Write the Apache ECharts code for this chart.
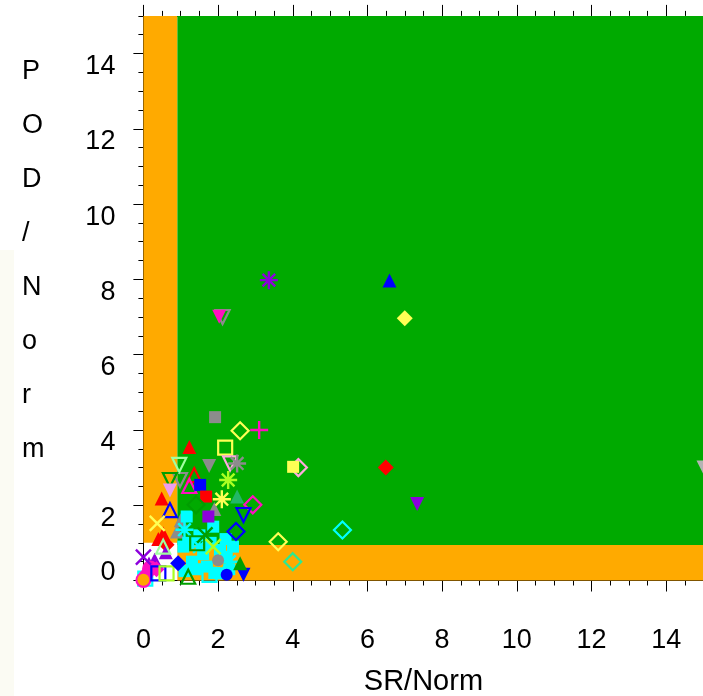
<!DOCTYPE html>
<html><head><meta charset="utf-8">
<script src="https://cdn.jsdelivr.net/npm/echarts@6/dist/echarts.min.js"></script>
<style>html,body{margin:0;padding:0;background:#fff;}#c{width:703px;height:696px;}</style>
</head><body><div id="c"></div>
<script>
// ---- axis / tick data ----
const xMin = 0, xMax = 15, yMin = 0, yMax = 15;
const xTickStep = 2, yTickStep = 2, minorStep = 0.5;
const xTitle = 'SR/Norm';
const yTitle = 'POD/Norm';
const srThreshold = 0.91, podThreshold = 0.94, podLeftThreshold = 1.0;

// ---- point data (SR/Norm, POD/Norm) ----
const purpleStar = [[3.36,7.98]];
const blueFilledTri = [[6.59,7.97]];
const magentaFilledTriDown = [[2.03,7.01]];
const grayOpenTriDown = [[2.12,7.0],[0.98,2.67]];
const yellowFilledDiamond = [[7.0,6.97]];
const grayFilledSquare = [[1.92,4.34]];
const yellowOpenDiamond = [[2.59,3.98],[3.61,1.03]];
const magentaPlus = [[3.10,4.0]];
const redFilledTri = [[1.23,3.55],[0.49,2.18],[0.53,1.25],[0.4,1.1]];
const yellowOpenSquare = [[2.19,3.53]];
const palegreenOpenTriDown = [[0.96,3.07]];
const grayFilledTriDown = [[1.76,3.04]];
const grayStar = [[2.51,3.11]];
const pinkOpenTriDown = [[2.32,3.11]];
const yellowFilledSquare = [[4.01,3.02]];
const pinkOpenDiamond = [[4.15,3.0]];
const redFilledDiamond = [[6.49,3.0],[0.62,0.95]];
const silverFilledTriDown = [[15.0,3.0]];
const purpleFilledTriDown = [[7.33,2.03]];
const cyanOpenDiamond = [[5.33,1.34]];
const springOpenDiamond = [[4.0,0.5]];
const limeStar = [[2.27,2.67]];
const greenOpenTriDown = [[0.71,2.67]];
const redOpenTri = [[1.36,2.80]];
const magentaOpenTri = [[1.23,2.51]];
const blueFilledSquare = [[1.52,2.54]];
const seagreenFilledTri = [[2.51,2.23]];
const plumFilledTriDown = [[0.71,2.39]];
const redFilledSquare = [[1.68,2.23]];
const yellowStar = [[2.10,2.16]];
const greenOpenDiamond = [[1.41,2.01]];
const magentaOpenDiamond = [[2.93,2.01]];
const blueOpenTri = [[0.71,1.87]];
const blueOpenTriDown = [[2.68,1.74]];
const blueOpenDiamond = [[2.48,1.30]];
const yellowCross = [[0.37,1.52]];
const greenCross = [[1.65,1.21]];
const greenOpenSquare = [[1.44,0.99]];
const grayFilledTri = [[0.9,1.3],[1.0,1.6],[1.9,1.9]];
const cyanFilledSquare = [[1.16,1.70],[1.87,1.43],[2.05,0.81],[2.23,0.63],[1.07,0.90],[1.70,0.37],[2.05,0.19],[1.5,1.2],[2.4,0.9],[1.3,0.5],[1.4,0.3],[1.9,0.2],[2.3,0.3],[1.6,0.7],[1.2,1.0],[2.2,1.1],[1.8,1.0],[1.1,0.25]];
const cyanStar = [[2.3,0.5],[1.5,0.9],[1.1,1.35]];
const cyanOpenSquare = [[1.77,0.15],[0.05,0.05]];
const purpleFilledSquare = [[1.74,1.70]];
const purpleFilledTri = [[0.3,0.55],[0.6,0.75],[0.15,0.45]];
const grayFilledCircle = [[2.0,0.54]];
const limeCross = [[1.87,0.90]];
const palegreenOpenTri = [[0.53,0.90]];
const magentaFilledDiamond = [[0.1,0.2],[0.35,0.3],[0.05,0.1]];
const magentaFilledCircle = [[0.0,0.01],[0.18,0.32]];
const orangeFilledCircle = [[0.0,0.02]];
const purpleCross = [[0.0,0.62]];
const blueOpenSquare = [[0.40,0.19]];
const limeOpenSquare = [[0.62,0.19]];
const blueFilledDiamond = [[0.93,0.46]];
const greenOpenTri = [[1.20,0.10]];
const blueFilledCircle = [[2.23,0.15]];
const blueFilledTriDown = [[2.68,0.15]];
const greenFilledTri = [[2.59,0.46]];

const C = {
  red:'#FF0000', blue:'#0000FF', magenta:'#FF10C0', purple:'#8C00DC', yellow:'#FFFF55',
  gray:'#8C8C8C', silver:'#B4B4B4', cyan:'#00FFFF', lime:'#AAFF22', green:'#009E00',
  spring:'#30E890', seagreen:'#22B866', pink:'#FFAADD', plum:'#EE9EEE', palegreen:'#A0FFA0',
  orange:'#FFA500'
};
const SHAPES = {
  triUp:{symbol:'triangle', size:14, rot:0},
  triDown:{symbol:'triangle', size:14, rot:180},
  square:{symbol:'rect', size:12, rot:0},
  osquare:{symbol:'rect', size:14, rot:0},
  diamond:{symbol:'diamond', size:16, rot:0},
  odiamond:{symbol:'diamond', size:17, rot:0},
  circle:{symbol:'circle', size:12, rot:0},
  bigcircle:{symbol:'circle', size:16, rot:0},
  plus:{symbol:'path://M5,0L5,10M0,5L10,5', size:18, rot:0},
  cross:{symbol:'path://M0,0L10,10M10,0L0,10', size:15, rot:0},
  star:{symbol:'path://M5,0L5,10M0,5L10,5M1.5,1.5L8.5,8.5M8.5,1.5L1.5,8.5', size:18, rot:0}
};
// [data, colour, shape, mode] mode: fill | open | line
const spec = [
  [purpleStar,C.purple,'star','line'],
  [blueFilledTri,C.blue,'triUp','fill'],
  [grayOpenTriDown,C.gray,'triDown','open'],
  [magentaFilledTriDown,C.magenta,'triDown','fill'],
  [yellowFilledDiamond,C.yellow,'diamond','fill'],
  [grayFilledSquare,C.gray,'square','fill'],
  [yellowOpenDiamond,C.yellow,'odiamond','open'],
  [magentaPlus,C.magenta,'plus','line'],
  [yellowOpenSquare,C.yellow,'osquare','open'],
  [palegreenOpenTriDown,C.palegreen,'triDown','open'],
  [grayFilledTriDown,C.gray,'triDown','fill'],
  [pinkOpenTriDown,C.pink,'triDown','open'],
  [grayStar,C.gray,'star','line'],
  [pinkOpenDiamond,C.pink,'odiamond','open'],
  [yellowFilledSquare,C.yellow,'square','fill'],
  [redFilledDiamond,C.red,'diamond','fill'],
  [silverFilledTriDown,C.silver,'triDown','fill'],
  [purpleFilledTriDown,C.purple,'triDown','fill'],
  [cyanOpenDiamond,C.cyan,'odiamond','open'],
  [springOpenDiamond,C.spring,'odiamond','open'],
  [grayFilledTri,C.gray,'triUp','fill'],
  [cyanFilledSquare,C.cyan,'square','fill'],
  [cyanStar,C.cyan,'star','line'],
  [cyanOpenSquare,C.cyan,'osquare','open'],
  [greenOpenTriDown,C.green,'triDown','open'],
  [redOpenTri,C.red,'triUp','open'],
  [magentaOpenTri,C.magenta,'triUp','open'],
  [blueFilledSquare,C.blue,'square','fill'],
  [limeStar,C.lime,'star','line'],
  [seagreenFilledTri,C.seagreen,'triUp','fill'],
  [plumFilledTriDown,C.plum,'triDown','fill'],
  [redFilledTri,C.red,'triUp','fill'],
  [redFilledSquare,C.red,'square','fill'],
  [yellowStar,C.yellow,'star','line'],
  [greenOpenDiamond,C.green,'odiamond','open'],
  [magentaOpenDiamond,C.magenta,'odiamond','open'],
  [blueOpenTri,C.blue,'triUp','open'],
  [blueOpenTriDown,C.blue,'triDown','open'],
  [blueOpenDiamond,C.blue,'odiamond','open'],
  [yellowCross,C.yellow,'cross','line'],
  [greenCross,C.green,'cross','line'],
  [greenOpenSquare,C.green,'osquare','open'],
  [purpleFilledSquare,C.purple,'square','fill'],
  [purpleFilledTri,C.purple,'triUp','fill'],
  [grayFilledCircle,C.gray,'circle','fill'],
  [limeCross,C.lime,'cross','line'],
  [palegreenOpenTri,C.palegreen,'triUp','open'],
  [magentaFilledDiamond,C.magenta,'diamond','fill'],
  [magentaFilledCircle,C.magenta,'bigcircle','fill'],
  [orangeFilledCircle,C.orange,'circle','fill'],
  [purpleCross,C.purple,'cross','line'],
  [blueOpenSquare,C.blue,'osquare','open'],
  [limeOpenSquare,C.lime,'osquare','open'],
  [blueFilledDiamond,C.blue,'diamond','fill'],
  [greenOpenTri,C.green,'triUp','open'],
  [blueFilledCircle,C.blue,'circle','fill'],
  [blueFilledTriDown,C.blue,'triDown','fill'],
  [greenFilledTri,C.green,'triUp','fill']
];

const FONT = 'Liberation Sans, Arial, sans-serif';
const series = spec.map(([data, color, shape, mode], i) => {
  const s = SHAPES[shape];
  let itemStyle;
  if (mode === 'fill') itemStyle = {color: color, borderWidth: 0, opacity: 1};
  else if (mode === 'open') itemStyle = {color: 'rgba(0,0,0,0)', borderColor: color, borderWidth: 2.2, opacity: 1};
  else itemStyle = {color: color, borderColor: color, borderWidth: 2.4, opacity: 1};
  return {type:'scatter', data: data, symbol: s.symbol, symbolSize: s.size, symbolRotate: s.rot,
    itemStyle: itemStyle, clip: false, silent: true, z: 3};
});

// background quadrants
series.unshift({
  type:'scatter', data: [], silent: true, z: 1,
  markArea: { silent: true, itemStyle: {opacity: 1}, data: [
    [{xAxis: xMin, yAxis: podLeftThreshold, itemStyle:{color:'#FFAA00'}}, {xAxis: srThreshold, yAxis: yMax}],
    [{xAxis: srThreshold, yAxis: yMin, itemStyle:{color:'#FFAA00'}}, {xAxis: xMax, yAxis: podThreshold}],
    [{xAxis: srThreshold, yAxis: podThreshold, itemStyle:{color:'#00AA00'}}, {xAxis: xMax, yAxis: yMax}]
  ]}
});

const yRich = {
  n: {fontSize: 27, fontFamily: FONT, color: '#000', padding: [26,0,0,0]},
  z: {fontSize: 27, fontFamily: FONT, color: '#000', padding: [0,0,16,0]}
};
const blackLine = {color:'#000', width:1};
const option = {
  animation: false,
  backgroundColor: '#fff',
  grid: {left: 143.4, top: 15.9, width: 560.1, height: 564.6, containLabel: false, outerBoundsMode: 'none'},
  xAxis: [
    {type:'value', position:'bottom', min:xMin, max:xMax, interval:xTickStep,
     axisLine:{show:true, onZero:false, lineStyle:blackLine},
     axisTick:{show:true, length:11, lineStyle:blackLine},
     axisLabel:{show:true, showMaxLabel:false, fontSize:27, color:'#000', fontFamily:FONT, margin:47},
     splitLine:{show:false},
     name:xTitle, nameLocation:'middle', nameGap:87,
     nameTextStyle:{fontSize:29, color:'#000', fontFamily:FONT}},
    {type:'value', position:'bottom', min:xMin, max:xMax, interval:minorStep,
     axisLine:{show:false, onZero:false}, axisTick:{show:true, length:5, lineStyle:blackLine},
     axisLabel:{show:false}, splitLine:{show:false}},
    {type:'value', position:'top', min:xMin, max:xMax, interval:xTickStep,
     axisLine:{show:true, onZero:false, lineStyle:blackLine},
     axisTick:{show:true, length:11, lineStyle:blackLine},
     axisLabel:{show:false}, splitLine:{show:false}},
    {type:'value', position:'top', min:xMin, max:xMax, interval:minorStep,
     axisLine:{show:false, onZero:false}, axisTick:{show:true, length:5, lineStyle:blackLine},
     axisLabel:{show:false}, splitLine:{show:false}}
  ],
  yAxis: [
    {type:'value', position:'left', min:yMin, max:yMax, interval:yTickStep,
     axisLine:{show:true, onZero:false, lineStyle:blackLine},
     axisTick:{show:true, length:10, lineStyle:blackLine},
     axisLabel:{show:true, showMaxLabel:false, margin:28,
       formatter: v => v === 0 ? '{z|0}' : '{n|' + v + '}', rich: yRich},
     splitLine:{show:false}},
    {type:'value', position:'left', min:yMin, max:yMax, interval:minorStep,
     axisLine:{show:false, onZero:false}, axisTick:{show:true, length:5, lineStyle:blackLine},
     axisLabel:{show:false}, splitLine:{show:false}}
  ],
  graphic: [
    {type:'rect', left:0, top:250, shape:{width:14, height:446}, style:{fill:'#FBFBF3'}, silent:true, z:-1},
    {type:'text', left:22, top:45, silent:true,
     style:{text: yTitle.split('').join('\n'), fontSize:27, lineHeight:54, fontFamily:FONT, fill:'#000'}}
  ],
  series: series
};
const chart = echarts.init(document.getElementById('c'), null, {renderer:'canvas'});
chart.setOption(option);
</script></body></html>
